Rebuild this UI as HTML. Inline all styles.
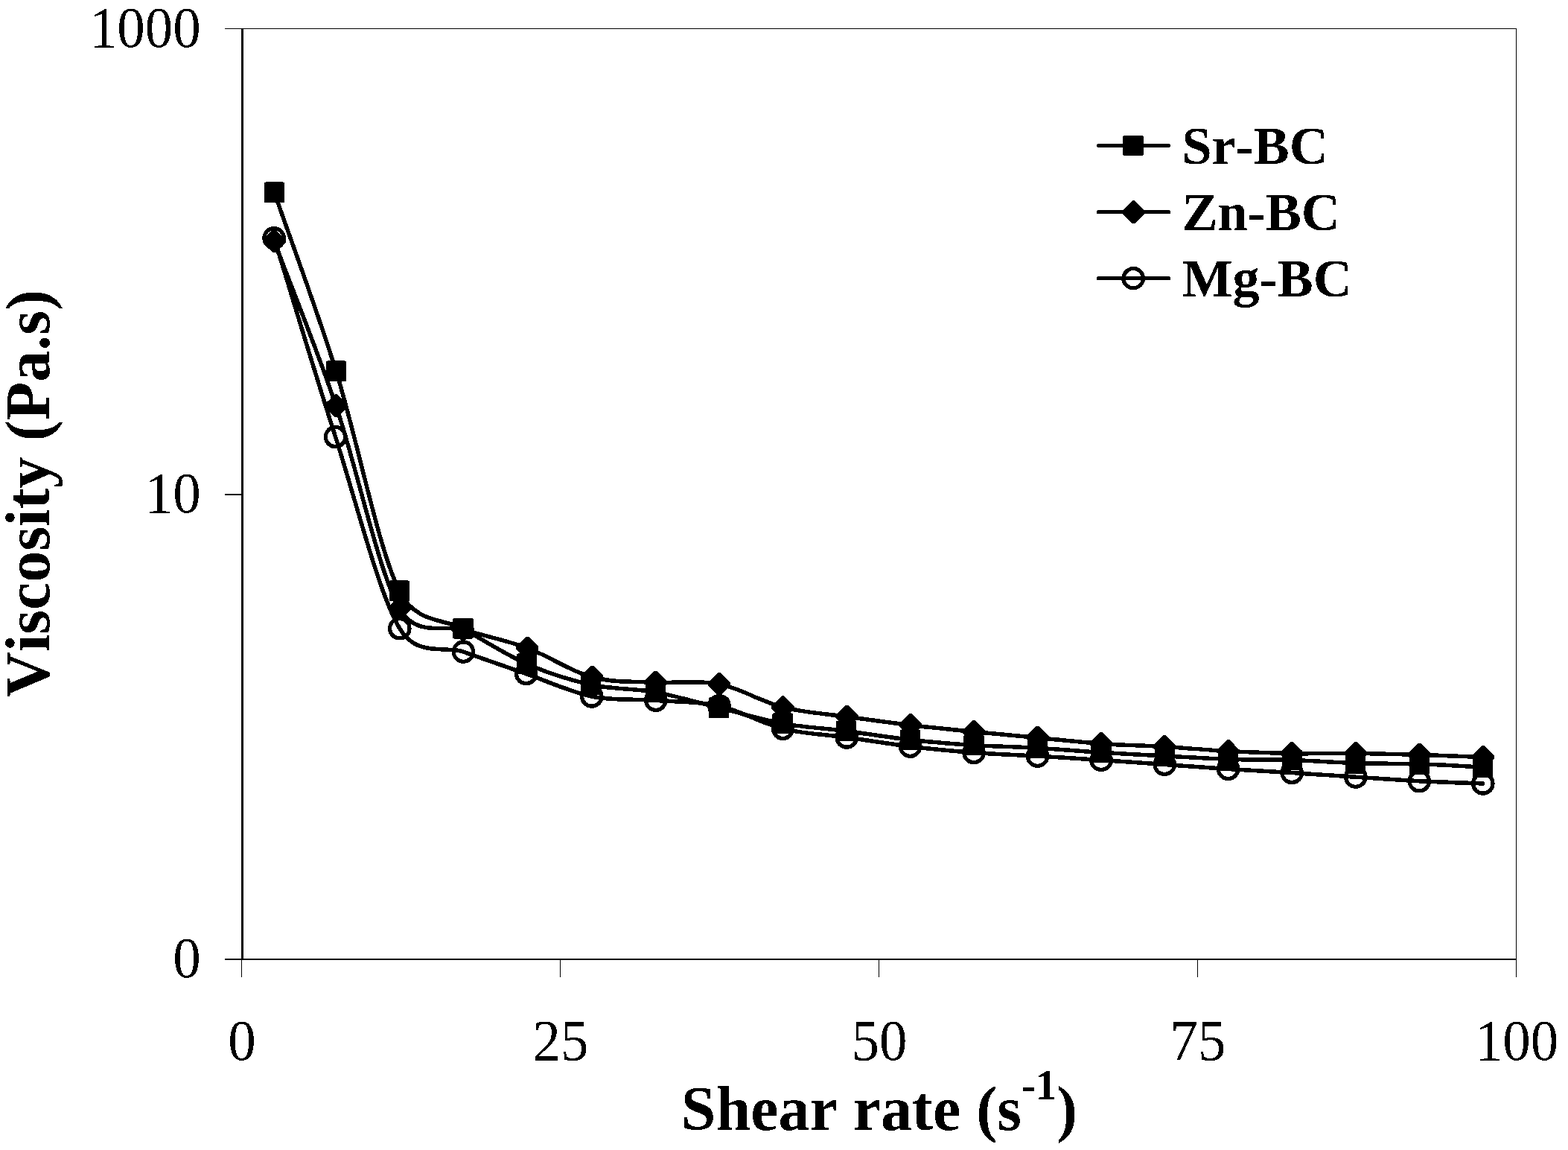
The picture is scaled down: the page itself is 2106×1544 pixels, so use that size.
<!DOCTYPE html>
<html lang="en">
<head>
<meta charset="utf-8">
<title>Viscosity vs shear rate</title>
<style>
html,body{margin:0;padding:0;background:#fff;}
body{width:2106px;height:1544px;overflow:hidden;}
svg{display:block;}
text{font-family:"Liberation Serif",serif;fill:#000;font-kerning:none;}
.tick{font-size:77.4px;}
.title{font-size:84px;font-weight:bold;}
.leg{font-size:72.9px;font-weight:bold;}
.ser{fill:none;stroke:#000;stroke-width:5.50;stroke-linejoin:round;stroke-linecap:round;}
.mk{fill:#000;stroke:none;}
.circ{fill:none;stroke:#000;stroke-width:5.20;}
.ax{stroke:#000;fill:none;}
</style>
</head>
<body>
<svg width="2106" height="1544" viewBox="0 0 2106 1544">
<defs><filter id="bw" x="0" y="0" width="2106" height="1544" filterUnits="userSpaceOnUse" color-interpolation-filters="sRGB"><feComponentTransfer><feFuncR type="discrete" tableValues="0 1"/><feFuncG type="discrete" tableValues="0 1"/><feFuncB type="discrete" tableValues="0 1"/></feComponentTransfer></filter></defs>
<g filter="url(#bw)">
<rect x="0" y="0" width="2106" height="1544" fill="#fff"/>
<g class="ax" shape-rendering="crispEdges">
<line x1="302" y1="38.5" x2="2037" y2="38.5" stroke-width="1"/>
<line x1="2036.5" y1="38" x2="2036.5" y2="1311.5" stroke-width="1"/>
<line x1="325.5" y1="38" x2="325.5" y2="1289" stroke-width="3"/>
<line x1="302" y1="1288" x2="2037" y2="1288" stroke-width="2"/>
<line x1="302" y1="664" x2="325" y2="664" stroke-width="2"/>
<line x1="324.5" y1="1288" x2="324.5" y2="1311.5" stroke-width="1"/>
<line x1="752.5" y1="1288" x2="752.5" y2="1311.5" stroke-width="1"/>
<line x1="1180.5" y1="1288" x2="1180.5" y2="1311.5" stroke-width="1"/>
<line x1="1608.5" y1="1288" x2="1608.5" y2="1311.5" stroke-width="1"/>
</g>
<g class="tick">
<text transform="translate(269.60,62.50) scale(0.967,1)" text-anchor="end">1000</text>
<text transform="translate(269.60,687.50) scale(0.967,1)" text-anchor="end">10</text>
<text transform="translate(269.60,1312.00) scale(0.967,1)" text-anchor="end">0</text>
<text transform="translate(325.00,1423.10) scale(0.967,1)" text-anchor="middle">0</text>
<text transform="translate(753.00,1423.10) scale(0.967,1)" text-anchor="middle">25</text>
<text transform="translate(1181.00,1423.10) scale(0.967,1)" text-anchor="middle">50</text>
<text transform="translate(1609.00,1423.10) scale(0.967,1)" text-anchor="middle">75</text>
<text transform="translate(2093.20,1423.10) scale(0.967,1)" text-anchor="end">100</text>
</g>
<text class="title" transform="translate(914.8,1517)">Shear rate (s<tspan dy="-41" font-size="56.5">-1</tspan><tspan dy="41">)</tspan></text>
<text class="title" transform="translate(66,662.4) rotate(-90)" text-anchor="middle" letter-spacing="0.07">Viscosity (Pa.s)</text>
<path class="ser" d="M368.50,258.30 C396.13,338.33 423.43,409.22 451.40,498.40 C479.37,587.58 507.88,735.83 536.30,793.40 C558.28,837.94 599.84,831.19 621.90,843.80 C650.42,860.10 678.80,878.63 707.40,891.20 C736.00,903.77 764.64,912.83 793.50,919.20 C822.36,925.57 851.92,924.23 880.55,929.40 C909.18,934.57 936.87,943.20 965.30,950.20 C993.73,957.20 1022.62,966.18 1051.15,971.40 C1079.68,976.62 1107.92,977.85 1136.50,981.50 C1165.08,985.15 1194.02,990.13 1222.60,993.30 C1251.18,996.47 1279.52,998.68 1308.00,1000.50 C1336.48,1002.32 1365.00,1002.57 1393.50,1004.20 C1422.00,1005.83 1450.55,1008.50 1479.00,1010.30 C1507.45,1012.10 1535.77,1013.52 1564.20,1015.00 C1592.63,1016.48 1621.10,1018.28 1649.60,1019.20 C1678.10,1020.12 1706.67,1019.58 1735.20,1020.50 C1763.73,1021.42 1792.28,1023.82 1820.80,1024.70 C1849.32,1025.58 1877.80,1024.92 1906.30,1025.80 C1934.80,1026.68 1963.30,1028.60 1991.80,1030.00"/>
<path class="ser" d="M368.30,323.60 C395.97,397.33 423.25,462.52 451.30,544.80 C479.35,627.08 508.15,767.23 536.60,817.30 C558.79,856.36 599.70,838.35 622.00,845.20 C650.58,853.98 679.25,859.37 708.10,870.00 C736.95,880.63 766.33,901.30 795.10,909.00 C823.87,916.70 852.22,914.63 880.70,916.20 C909.18,917.77 937.53,912.83 966.00,918.40 C994.47,923.97 1022.95,942.32 1051.50,949.60 C1080.05,956.88 1108.78,958.12 1137.30,962.10 C1165.82,966.08 1194.15,970.12 1222.60,973.50 C1251.05,976.88 1279.52,979.58 1308.00,982.40 C1336.48,985.22 1365.00,987.72 1393.50,990.40 C1422.00,993.08 1450.55,996.48 1479.00,998.50 C1507.45,1000.52 1535.77,1000.82 1564.20,1002.50 C1592.63,1004.18 1621.10,1007.10 1649.60,1008.60 C1678.10,1010.10 1706.67,1011.02 1735.20,1011.50 C1763.73,1011.98 1792.28,1011.20 1820.80,1011.50 C1849.32,1011.80 1877.80,1012.47 1906.30,1013.30 C1934.80,1014.13 1963.30,1015.43 1991.80,1016.50"/>
<path class="ser" d="M368.10,319.80 C395.60,408.73 422.48,499.27 450.60,586.60 C478.72,673.93 508.17,795.72 536.80,843.80 C560.12,882.95 599.34,866.85 622.40,875.10 C650.72,885.23 677.97,894.62 706.70,904.60 C735.43,914.58 765.80,929.05 794.80,935.00 C823.80,940.95 852.17,938.18 880.70,940.30 C909.23,942.42 937.53,941.37 966.00,947.70 C994.47,954.03 1022.95,971.25 1051.50,978.30 C1080.05,985.35 1108.78,986.02 1137.30,990.00 C1165.82,993.98 1194.15,998.77 1222.60,1002.20 C1251.05,1005.63 1279.52,1008.43 1308.00,1010.60 C1336.48,1012.77 1365.00,1013.57 1393.50,1015.20 C1422.00,1016.83 1450.55,1018.53 1479.00,1020.40 C1507.45,1022.27 1535.77,1024.40 1564.20,1026.40 C1592.63,1028.40 1621.10,1030.55 1649.60,1032.40 C1678.10,1034.25 1706.67,1035.70 1735.20,1037.50 C1763.73,1039.30 1792.28,1041.32 1820.80,1043.20 C1849.32,1045.08 1877.80,1047.33 1906.30,1048.80 C1934.80,1050.27 1963.30,1050.93 1991.80,1052.00"/>
<g class="circ"><circle cx="368.10" cy="319.80" r="13.20"/><circle cx="450.60" cy="586.60" r="13.20"/><circle cx="536.80" cy="843.80" r="13.20"/><circle cx="622.40" cy="875.10" r="13.20"/><circle cx="706.70" cy="904.60" r="13.20"/><circle cx="794.80" cy="935.00" r="13.20"/><circle cx="880.70" cy="940.30" r="13.20"/><circle cx="966.00" cy="947.70" r="13.20"/><circle cx="1051.50" cy="978.30" r="13.20"/><circle cx="1137.30" cy="990.00" r="13.20"/><circle cx="1222.60" cy="1002.20" r="13.20"/><circle cx="1308.00" cy="1010.60" r="13.20"/><circle cx="1393.50" cy="1015.20" r="13.20"/><circle cx="1479.00" cy="1020.40" r="13.20"/><circle cx="1564.20" cy="1026.40" r="13.20"/><circle cx="1649.60" cy="1032.40" r="13.20"/><circle cx="1735.20" cy="1037.50" r="13.20"/><circle cx="1820.80" cy="1043.20" r="13.20"/><circle cx="1906.30" cy="1048.80" r="13.20"/><circle cx="1991.80" cy="1052.00" r="13.20"/></g>
<g class="mk"><path d="M366.60,308.30 L370.00,308.30 L383.60,321.90 L383.60,325.30 L370.00,338.90 L366.60,338.90 L353.00,325.30 L353.00,321.90 Z"/><path d="M449.60,529.50 L453.00,529.50 L466.60,543.10 L466.60,546.50 L453.00,560.10 L449.60,560.10 L436.00,546.50 L436.00,543.10 Z"/><path d="M534.90,802.00 L538.30,802.00 L551.90,815.60 L551.90,819.00 L538.30,832.60 L534.90,832.60 L521.30,819.00 L521.30,815.60 Z"/><path d="M620.30,829.90 L623.70,829.90 L637.30,843.50 L637.30,846.90 L623.70,860.50 L620.30,860.50 L606.70,846.90 L606.70,843.50 Z"/><path d="M706.40,854.70 L709.80,854.70 L723.40,868.30 L723.40,871.70 L709.80,885.30 L706.40,885.30 L692.80,871.70 L692.80,868.30 Z"/><path d="M793.40,893.70 L796.80,893.70 L810.40,907.30 L810.40,910.70 L796.80,924.30 L793.40,924.30 L779.80,910.70 L779.80,907.30 Z"/><path d="M879.00,900.90 L882.40,900.90 L896.00,914.50 L896.00,917.90 L882.40,931.50 L879.00,931.50 L865.40,917.90 L865.40,914.50 Z"/><path d="M964.30,903.10 L967.70,903.10 L981.30,916.70 L981.30,920.10 L967.70,933.70 L964.30,933.70 L950.70,920.10 L950.70,916.70 Z"/><path d="M1049.80,934.30 L1053.20,934.30 L1066.80,947.90 L1066.80,951.30 L1053.20,964.90 L1049.80,964.90 L1036.20,951.30 L1036.20,947.90 Z"/><path d="M1135.60,946.80 L1139.00,946.80 L1152.60,960.40 L1152.60,963.80 L1139.00,977.40 L1135.60,977.40 L1122.00,963.80 L1122.00,960.40 Z"/><path d="M1220.90,958.20 L1224.30,958.20 L1237.90,971.80 L1237.90,975.20 L1224.30,988.80 L1220.90,988.80 L1207.30,975.20 L1207.30,971.80 Z"/><path d="M1306.30,967.10 L1309.70,967.10 L1323.30,980.70 L1323.30,984.10 L1309.70,997.70 L1306.30,997.70 L1292.70,984.10 L1292.70,980.70 Z"/><path d="M1391.80,975.10 L1395.20,975.10 L1408.80,988.70 L1408.80,992.10 L1395.20,1005.70 L1391.80,1005.70 L1378.20,992.10 L1378.20,988.70 Z"/><path d="M1477.30,983.20 L1480.70,983.20 L1494.30,996.80 L1494.30,1000.20 L1480.70,1013.80 L1477.30,1013.80 L1463.70,1000.20 L1463.70,996.80 Z"/><path d="M1562.50,987.20 L1565.90,987.20 L1579.50,1000.80 L1579.50,1004.20 L1565.90,1017.80 L1562.50,1017.80 L1548.90,1004.20 L1548.90,1000.80 Z"/><path d="M1647.90,993.30 L1651.30,993.30 L1664.90,1006.90 L1664.90,1010.30 L1651.30,1023.90 L1647.90,1023.90 L1634.30,1010.30 L1634.30,1006.90 Z"/><path d="M1733.50,996.20 L1736.90,996.20 L1750.50,1009.80 L1750.50,1013.20 L1736.90,1026.80 L1733.50,1026.80 L1719.90,1013.20 L1719.90,1009.80 Z"/><path d="M1819.10,996.20 L1822.50,996.20 L1836.10,1009.80 L1836.10,1013.20 L1822.50,1026.80 L1819.10,1026.80 L1805.50,1013.20 L1805.50,1009.80 Z"/><path d="M1904.60,998.00 L1908.00,998.00 L1921.60,1011.60 L1921.60,1015.00 L1908.00,1028.60 L1904.60,1028.60 L1891.00,1015.00 L1891.00,1011.60 Z"/><path d="M1990.10,1001.20 L1993.50,1001.20 L2007.10,1014.80 L2007.10,1018.20 L1993.50,1031.80 L1990.10,1031.80 L1976.50,1018.20 L1976.50,1014.80 Z"/></g>
<g class="mk"><rect x="354.85" y="244.50" width="27.30" height="27.60" rx="1.5"/><rect x="437.75" y="484.60" width="27.30" height="27.60" rx="1.5"/><rect x="522.65" y="779.60" width="27.30" height="27.60" rx="1.5"/><rect x="608.25" y="830.00" width="27.30" height="27.60" rx="1.5"/><rect x="693.75" y="877.40" width="27.30" height="27.60" rx="1.5"/><rect x="779.85" y="905.40" width="27.30" height="27.60" rx="1.5"/><rect x="866.90" y="915.60" width="27.30" height="27.60" rx="1.5"/><rect x="951.65" y="936.40" width="27.30" height="27.60" rx="1.5"/><rect x="1037.50" y="957.60" width="27.30" height="27.60" rx="1.5"/><rect x="1122.85" y="967.70" width="27.30" height="27.60" rx="1.5"/><rect x="1208.95" y="979.50" width="27.30" height="27.60" rx="1.5"/><rect x="1294.35" y="986.70" width="27.30" height="27.60" rx="1.5"/><rect x="1379.85" y="990.40" width="27.30" height="27.60" rx="1.5"/><rect x="1465.35" y="996.50" width="27.30" height="27.60" rx="1.5"/><rect x="1550.55" y="1001.20" width="27.30" height="27.60" rx="1.5"/><rect x="1635.95" y="1005.40" width="27.30" height="27.60" rx="1.5"/><rect x="1721.55" y="1006.70" width="27.30" height="27.60" rx="1.5"/><rect x="1807.15" y="1010.90" width="27.30" height="27.60" rx="1.5"/><rect x="1892.65" y="1012.00" width="27.30" height="27.60" rx="1.5"/><rect x="1978.15" y="1016.20" width="27.30" height="27.60" rx="1.5"/></g>
<line class="ser" style="stroke-width:5.1" x1="1475.4" y1="195.5" x2="1569.6" y2="195.5"/>
<g class="mk"><rect x="1508.35" y="181.70" width="27.30" height="27.60" rx="1.5"/></g>
<text class="leg" transform="translate(1587.4,219.6) scale(0.99,1)">Sr-BC</text>
<line class="ser" style="stroke-width:5.1" x1="1475.4" y1="284.8" x2="1569.6" y2="284.8"/>
<g class="mk"><path d="M1520.80,269.50 L1524.20,269.50 L1537.80,283.10 L1537.80,286.50 L1524.20,300.10 L1520.80,300.10 L1507.20,286.50 L1507.20,283.10 Z"/></g>
<text class="leg" transform="translate(1587.4,308.5) scale(0.99,1)">Zn-BC</text>
<line class="ser" style="stroke-width:5.1" x1="1475.4" y1="373.7" x2="1569.6" y2="373.7"/>
<g class="circ"><circle cx="1522.20" cy="373.70" r="13.20"/></g>
<text class="leg" transform="translate(1587.4,397.6) scale(0.99,1)">Mg-BC</text>
</g>
</svg>
</body>
</html>
